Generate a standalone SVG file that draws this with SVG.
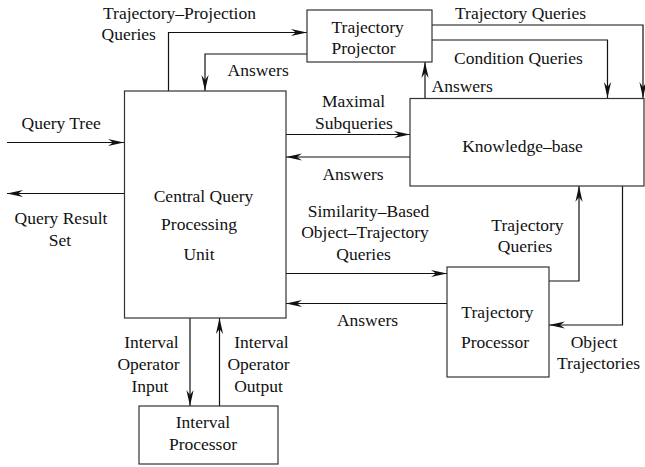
<svg xmlns="http://www.w3.org/2000/svg" width="645" height="467" viewBox="0 0 645 467">
<style>
.box{fill:#fff;stroke:#333;stroke-width:1.2}
.ln{fill:none;stroke:#111;stroke-width:1.2}
text{font-family:"Liberation Serif","Times New Roman",serif;font-size:17.5px;fill:#111}
.m{text-anchor:middle}
</style>
<defs>
<marker id="ah" markerUnits="userSpaceOnUse" orient="auto" markerWidth="20" markerHeight="10" refX="0" refY="0" viewBox="-17 -5 18 10" overflow="visible">
<path d="M0,0 L-16,-3.6 L-11,0 L-16,3.6 Z" fill="#111"/>
</marker>
</defs>
<g id="connectors">
<path class="ln" d="M7,142.5 H124" marker-end="url(#ah)"/>
<path class="ln" d="M124,193.5 H7" marker-end="url(#ah)"/>
<path class="ln" d="M168.5,91 V32.5 H307" marker-end="url(#ah)"/>
<path class="ln" d="M307,54 H205 V91" marker-end="url(#ah)"/>
<path class="ln" d="M432,25 H643 V98" marker-end="url(#ah)"/>
<path class="ln" d="M432,40 H607.5 V98" marker-end="url(#ah)"/>
<path class="ln" d="M425,98 V62" marker-end="url(#ah)"/>
<path class="ln" d="M286,134.5 H410" marker-end="url(#ah)"/>
<path class="ln" d="M410,157 H286" marker-end="url(#ah)"/>
<path class="ln" d="M286,273.5 H447" marker-end="url(#ah)"/>
<path class="ln" d="M447,303.5 H286" marker-end="url(#ah)"/>
<path class="ln" d="M549,281 H579 V186" marker-end="url(#ah)"/>
<path class="ln" d="M622.5,186 V325 H549" marker-end="url(#ah)"/>
<path class="ln" d="M190,318 V406" marker-end="url(#ah)"/>
<path class="ln" d="M219.5,406 V318" marker-end="url(#ah)"/>
</g>
<g id="cqpu">
<rect class="box" x="124.5" y="91" width="161.5" height="227"/>
<text class="m" x="203.5" y="201.5">Central Query</text>
<text class="m" x="199" y="230">Processing</text>
<text class="m" x="199" y="260">Unit</text>
</g>
<g id="trajectory-projector">
<rect class="box" x="307" y="10" width="125" height="52"/>
<text x="331.5" y="32.5">Trajectory</text>
<text x="331.5" y="54">Projector</text>
</g>
<g id="knowledge-base">
<rect class="box" x="410" y="98.5" width="234" height="87.5"/>
<text class="m" x="522.5" y="151.5">Knowledge–base</text>
</g>
<g id="trajectory-processor">
<rect class="box" x="447" y="267" width="102" height="110"/>
<text class="m" x="497.5" y="318">Trajectory</text>
<text class="m" x="495" y="347.5">Processor</text>
</g>
<g id="interval-processor">
<rect class="box" x="139" y="406" width="139" height="58"/>
<text class="m" x="203" y="428">Interval</text>
<text class="m" x="203" y="450">Processor</text>
</g>
<g id="labels">
<text x="103" y="18.5">Trajectory–Projection</text>
<text x="101.5" y="39.5">Queries</text>
<text x="227.5" y="76">Answers</text>
<text x="455" y="18.5">Trajectory Queries</text>
<text x="454" y="64">Condition Queries</text>
<text x="431.5" y="91.5">Answers</text>
<text x="21.5" y="129">Query Tree</text>
<text class="m" x="61" y="224">Query Result</text>
<text class="m" x="60" y="245.5">Set</text>
<text class="m" x="353.5" y="106.5">Maximal</text>
<text class="m" x="354" y="129">Subqueries</text>
<text class="m" x="353" y="180">Answers</text>
<text class="m" x="368.5" y="216.5">Similarity–Based</text>
<text class="m" x="365" y="238">Object–Trajectory</text>
<text class="m" x="363.5" y="260">Queries</text>
<text class="m" x="527.5" y="231">Trajectory</text>
<text class="m" x="525" y="251.5">Queries</text>
<text class="m" x="367.5" y="325.5">Answers</text>
<text class="m" x="151.5" y="347.5">Interval</text>
<text class="m" x="148.5" y="370">Operator</text>
<text class="m" x="150" y="391.5">Input</text>
<text class="m" x="261.5" y="347.5">Interval</text>
<text class="m" x="258.5" y="370">Operator</text>
<text class="m" x="258.5" y="391.5">Output</text>
<text class="m" x="594" y="347.5">Object</text>
<text class="m" x="598.5" y="369">Trajectories</text>
</g>
</svg>
